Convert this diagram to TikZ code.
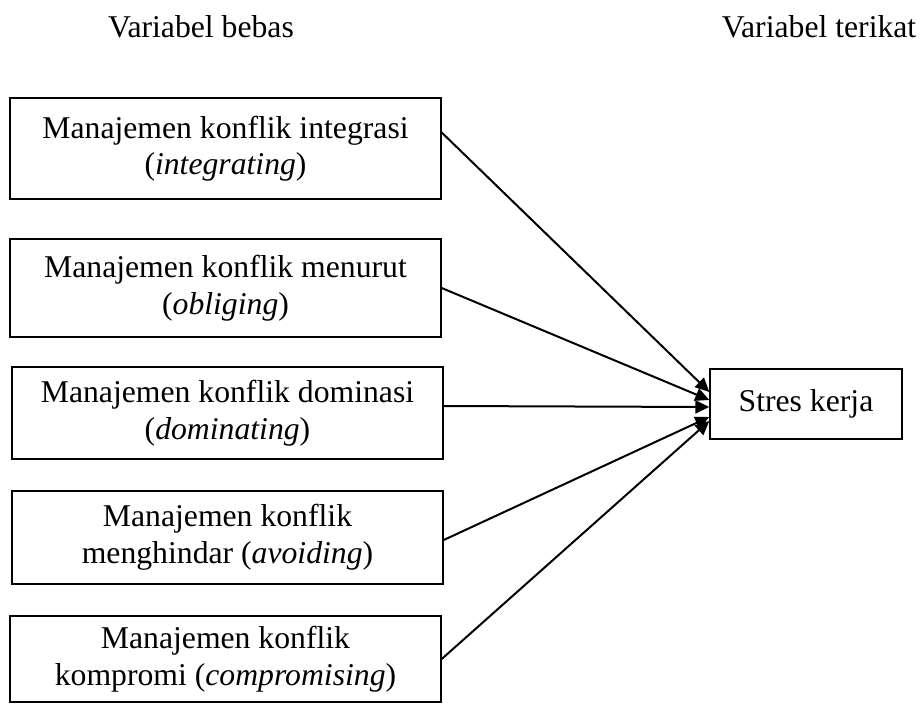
\documentclass[tikz,border=0pt]{standalone}
\usepackage{fontspec}
\setmainfont{Liberation Serif}
\usetikzlibrary{arrows.meta}

\begin{document}
\begin{tikzpicture}[x=1pt,y=-1pt,
  every node/.style={font=\fontsize{31.7}{36.5}\selectfont},
  box/.style={draw, line width=1.4pt, minimum width=431pt, inner sep=0pt, align=center},
  arr/.style={-{Triangle[length=14pt,width=13pt]}, line width=2pt}]
\useasboundingbox (0,0) rectangle (923,704);

% headers
\node [anchor=base] (hbebas) at (201,37) {Variabel bebas};
\node [anchor=base] (hterikat) at (819,37) {Variabel terikat};

% independent variables
\node [box, minimum height=101pt] (b1) at (225.5,148.5) {Manajemen konflik integrasi\\(\textit{integrating})};
\node [box, minimum height=98pt] (b2) at (225.5,288) {Manajemen konflik menurut\\(\textit{obliging})};
\node [box, minimum height=92pt] (b3) at (227.5,413) {Manajemen konflik dominasi\\(\textit{dominating})};
\node [box, minimum height=93pt] (b4) at (227.5,537.5) {Manajemen konflik\\menghindar (\textit{avoiding})};
\node [box, minimum height=86pt] (b5) at (225.5,659) {Manajemen konflik\\kompromi (\textit{compromising})};

% dependent variable
\node [box, minimum width=192pt, minimum height=70pt] (st) at (806,404) {Stres kerja};

\draw [arr] ([yshift=16pt]b1.east) -- ([yshift=12pt]st.west);
\draw [arr] (b2.east) -- ([yshift=4pt]st.west);
\draw [arr] ([yshift=7pt]b3.east) -- ([yshift=-3pt]st.west);
\draw [arr] ([yshift=-2.5pt]b4.east) -- ([yshift=-13pt]st.west);
\draw [arr] (b5.east) -- ([yshift=-17pt]st.west);
\end{tikzpicture}
\end{document}
